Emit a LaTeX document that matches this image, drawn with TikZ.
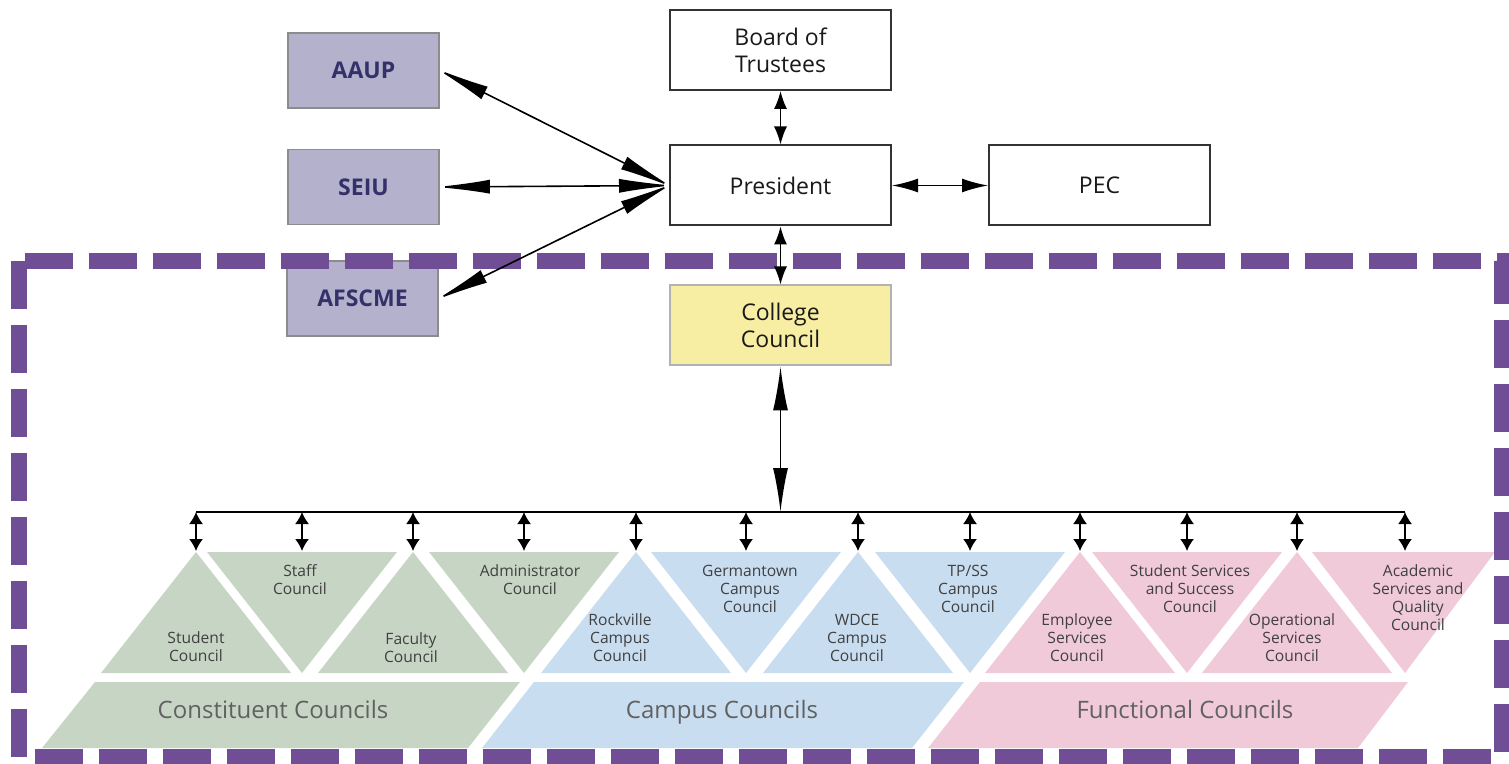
\documentclass[tikz,border=0pt]{standalone}
\usepackage{fontspec}
\setmainfont{Open Sans}
\usepackage{tikz}
\usetikzlibrary{arrows.meta}

\definecolor{unionfill}{RGB}{179,177,203}
\definecolor{uniontext}{RGB}{52,48,105}
\definecolor{collegefill}{RGB}{247,238,163}
\definecolor{constfill}{RGB}{199,214,196}
\definecolor{campusfill}{RGB}{201,221,240}
\definecolor{funcfill}{RGB}{241,202,218}
\definecolor{boxpurple}{RGB}{112,78,150}

\begin{document}
\begin{tikzpicture}[x=0.5pt, y=-0.5pt, line width=0.8pt,
    union/.style={draw=black!45, fill=unionfill, text=uniontext, minimum width=75.5pt, minimum height=37.5pt, inner sep=0pt, font=\fontsize{11.5}{13}\selectfont\bfseries},
    office/.style={draw=black!80, line width=1pt, fill=white, text=black!90, minimum width=110.5pt, minimum height=40pt, inner sep=0pt, align=center, font=\fontsize{11.5}{13.5}\selectfont},
    council/.style={align=center, text=black!75, inner sep=0pt, font=\fontsize{7.8}{9}\selectfont},
    group/.style={text=black!62, inner sep=0pt, text height=1.6ex, text depth=0.4ex, font=\fontsize{12}{14}\selectfont},
    bigtip/.style={>={Latex[length=27pt,width=7pt]}, <->, shorten <=-2pt, shorten >=-2pt},
    midtip/.style={>={Latex[length=13pt,width=7pt]}, <->},
    smalltip/.style={>={Latex[length=9pt,width=6.5pt]}, <->},
    longtip/.style={>={Latex[length=22pt,width=7.5pt]}, <->},
    droptip/.style={>={Latex[length=6pt,width=7pt]}, <->}]
    \useasboundingbox (0,0) rectangle (1509,764);

    % draw group bands
    \fill[constfill] (42,748) -- (95,682) -- (520,682) -- (468,748) -- cycle;
    \fill[campusfill] (482,748) -- (534,682) -- (964,682) -- (912,748) -- cycle;
    \fill[funcfill] (928,748) -- (980,682) -- (1408,682) -- (1358,748) -- cycle;

    % draw council triangles
    \fill[constfill] (101,673) -- (196,552) -- (291,673) -- cycle;
    \fill[constfill] (207,552) -- (397,552) -- (302,673) -- cycle;
    \fill[constfill] (318,673) -- (413,552) -- (508,673) -- cycle;
    \fill[constfill] (429,552) -- (619,552) -- (524,673) -- cycle;
    \fill[campusfill] (541,673) -- (636,552) -- (731,673) -- cycle;
    \fill[campusfill] (651,552) -- (841,552) -- (746,673) -- cycle;
    \fill[campusfill] (763,673) -- (858,552) -- (953,673) -- cycle;
    \fill[campusfill] (875,552) -- (1065,552) -- (970,673) -- cycle;
    \fill[funcfill] (985,673) -- (1080,552) -- (1175,673) -- cycle;
    \fill[funcfill] (1092,552) -- (1282,552) -- (1187,673) -- cycle;
    \fill[funcfill] (1202,673) -- (1297,552) -- (1392,673) -- cycle;
    \fill[funcfill] (1312,552) -- (1495,552) -- (1405,673) -- cycle;

    % draw boxes
    \node[union] (aaup) at (363.5,70.5) {AAUP};
    \node[union] (seiu) at (363.5,187) {SEIU};
    \node[union] (afscme) at (362.5,298.5) {AFSCME};
    \node[office] (board) at (780.5,50) {Board of\\Trustees};
    \node[office] (president) at (780.5,185.5) {President};
    \node[office] (pec) at (1099.5,185.5) {PEC};
    \node[office, fill=collegefill, draw=black!30] (college) at (780.5,325.5) {College\\Council};

    % draw dashed frame
    \draw[boxpurple, line width=8pt, dash pattern=on 24pt off 8pt] (19,261) rectangle (1502,757);

    % draw bus and drop points
    \coordinate (bus) at (780.5,512);
    \coordinate (b1) at (196,512);   \coordinate (t1) at (196,551);
    \coordinate (b2) at (302,512);   \coordinate (t2) at (302,551);
    \coordinate (b3) at (413,512);   \coordinate (t3) at (413,551);
    \coordinate (b4) at (524,512);   \coordinate (t4) at (524,551);
    \coordinate (b5) at (636,512);   \coordinate (t5) at (636,551);
    \coordinate (b6) at (746,512);   \coordinate (t6) at (746,551);
    \coordinate (b7) at (858,512);   \coordinate (t7) at (858,551);
    \coordinate (b8) at (970,512);   \coordinate (t8) at (970,551);
    \coordinate (b9) at (1080,512);  \coordinate (t9) at (1080,551);
    \coordinate (b10) at (1187,512); \coordinate (t10) at (1187,551);
    \coordinate (b11) at (1297,512); \coordinate (t11) at (1297,551);
    \coordinate (b12) at (1405,512); \coordinate (t12) at (1405,551);

    % draw arrows
    \draw[bigtip] (aaup.east) -- (president.west);
    \draw[bigtip] (seiu.east) -- (president.west);
    \draw[bigtip] (afscme.east) -- (president.west);
    \draw[smalltip] (board) -- (president);
    \draw[midtip] (president) -- (pec);
    \draw[smalltip] (president) -- (college);
    \draw[longtip] (college) -- (bus);
    \draw (b1) -- (b12);
    \draw[droptip] (b1) -- (t1);
    \draw[droptip] (b2) -- (t2);
    \draw[droptip] (b3) -- (t3);
    \draw[droptip] (b4) -- (t4);
    \draw[droptip] (b5) -- (t5);
    \draw[droptip] (b6) -- (t6);
    \draw[droptip] (b7) -- (t7);
    \draw[droptip] (b8) -- (t8);
    \draw[droptip] (b9) -- (t9);
    \draw[droptip] (b10) -- (t10);
    \draw[droptip] (b11) -- (t11);
    \draw[droptip] (b12) -- (t12);

    % draw council names
    \node[council] (student) at (196,647) {Student\\Council};
    \node[council] (staff) at (300,580) {Staff\\Council};
    \node[council] (faculty) at (411,648) {Faculty\\Council};
    \node[council] (admin) at (530,580) {Administrator\\Council};
    \node[council] (rockville) at (620,638) {Rockville\\Campus\\Council};
    \node[council] (germantown) at (750,589) {Germantown\\Campus\\Council};
    \node[council] (wdce) at (857,638) {WDCE\\Campus\\Council};
    \node[council] (tpss) at (968,589) {TP/SS\\Campus\\Council};
    \node[council] (employee) at (1077,638) {Employee\\Services\\Council};
    \node[council] (success) at (1190,589) {Student Services\\and Success\\Council};
    \node[council] (operational) at (1292,638) {Operational\\Services\\Council};
    \node[council] (academic) at (1418,598) {Academic\\Services and\\Quality\\Council};

    % draw group names
    \node[group] (constituent) at (273,712) {Constituent Councils};
    \node[group] (campus) at (722,712) {Campus Councils};
    \node[group] (functional) at (1185,712) {Functional Councils};
\end{tikzpicture}
\end{document}
